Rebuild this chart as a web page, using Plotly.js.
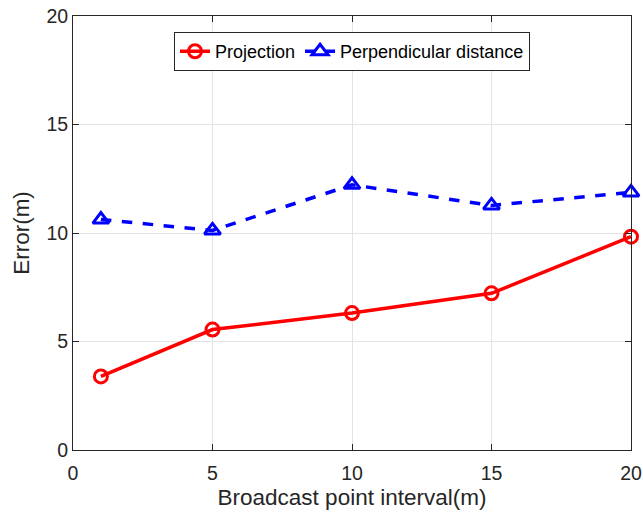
<!DOCTYPE html>
<html>
<head>
<meta charset="utf-8">
<script src="https://cdn.plot.ly/plotly-3.0.1.min.js"></script>
<style>html,body{margin:0;padding:0;background:#fff;}#chart{width:643px;height:517px;}</style>
</head>
<body>
<div id="chart"></div>
<script>
const intervals = [1, 5, 10, 15, 20];
const projection = [3.39, 5.55, 6.31, 7.22, 9.83];
const perpendicular = [10.62, 10.12, 12.22, 11.27, 11.87];
const seriesNames = ["Projection", "Perpendicular distance"];
const xTicks = [0, 5, 10, 15, 20];
const yTicks = [0, 5, 10, 15, 20];

const traces = [
  {
    x: intervals, y: projection, name: seriesNames[0], type: "scatter", mode: "lines+markers",
    line: {color: "#ff0000", width: 3.5},
    marker: {symbol: "circle-open", size: 13, color: "#ff0000", line: {width: 3, color: "#ff0000"}},
    cliponaxis: false
  },
  {
    x: intervals, y: perpendicular, name: seriesNames[1], type: "scatter", mode: "lines+markers",
    line: {color: "#0000ff", width: 3.5, dash: "dash"},
    marker: {symbol: "triangle-up-open", size: 14, color: "#0000ff", line: {width: 3, color: "#0000ff"}},
    cliponaxis: false
  }
];

const axisCommon = {
  showline: true, linecolor: "#262626", linewidth: 1, mirror: "ticks",
  ticks: "inside", ticklen: 6, tickcolor: "#262626", tickwidth: 1,
  showgrid: true, gridcolor: "#e3e3e3", gridwidth: 1, zeroline: false,
  tickfont: {family: "Liberation Sans, Arial, sans-serif", size: 19.5, color: "#262626"}
};

const layout = {
  width: 643, height: 517,
  margin: {l: 73, r: 12, t: 16, b: 67},
  paper_bgcolor: "#ffffff", plot_bgcolor: "#ffffff",
  font: {family: "Liberation Sans, Arial, sans-serif", color: "#262626"},
  xaxis: Object.assign({}, axisCommon, {
    range: [0, 20], tickvals: xTicks, ticktext: xTicks.map(String),
    ticklabelstandoff: 6,
    title: {text: "Broadcast point interval(m)", font: {size: 22.5, color: "#262626"}, standoff: 5}
  }),
  yaxis: Object.assign({}, axisCommon, {
    range: [0, 20], tickvals: yTicks, ticktext: yTicks.map(String),
    title: {text: "Error(m)", font: {size: 22.5, color: "#262626"}, standoff: 10}
  }),
  showlegend: true,
  legend: {
    orientation: "h", x: 0.5, xanchor: "center", y: 0.963, yanchor: "top",
    bgcolor: "#ffffff", bordercolor: "#262626", borderwidth: 1,
    font: {size: 18, color: "#000000"}, itemwidth: 30, tracegroupgap: 0
  }
};

Plotly.newPlot("chart", traces, layout, {displayModeBar: false, staticPlot: true});
</script>
</body>
</html>
